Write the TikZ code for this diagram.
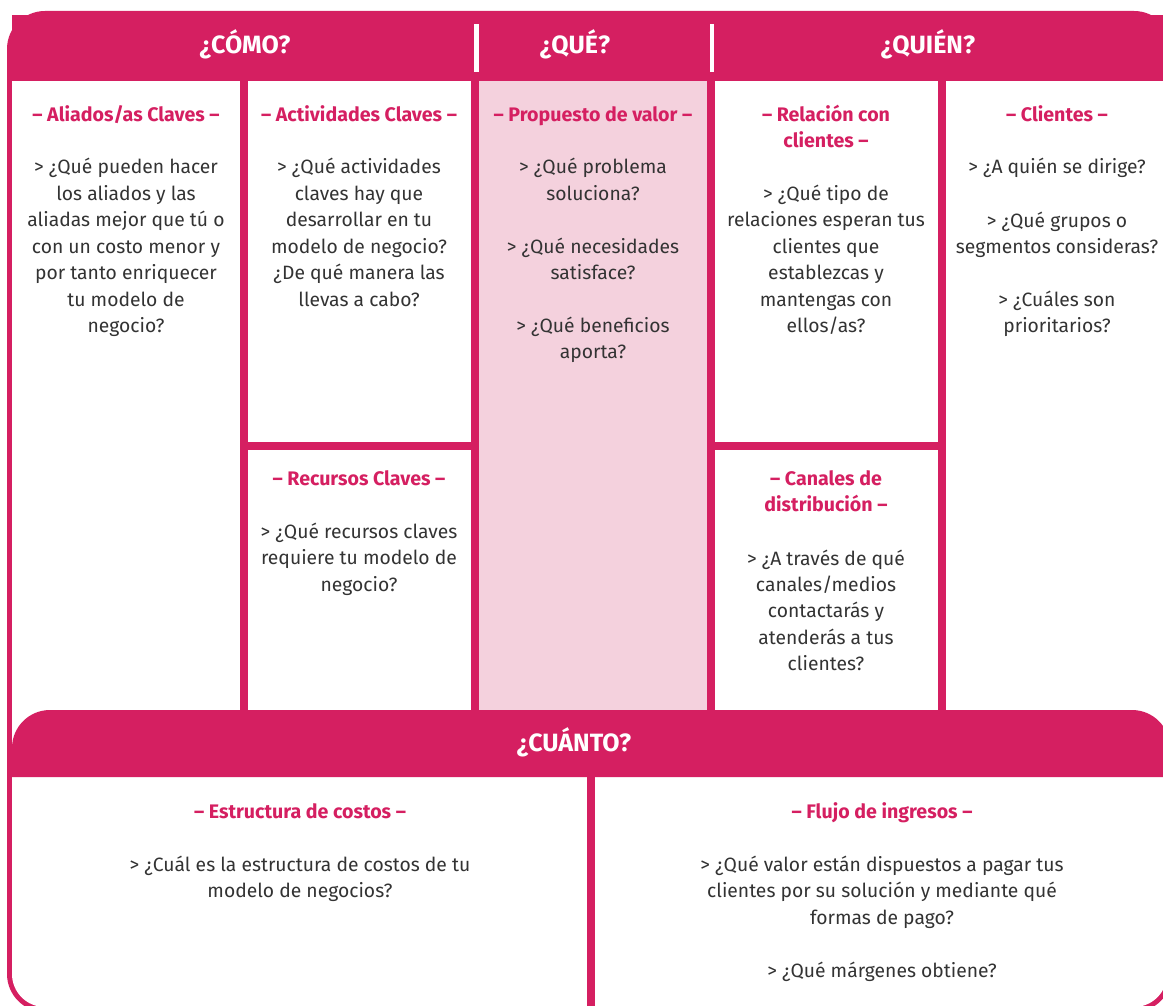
\documentclass[tikz,border=0pt]{standalone}
\usepackage{fontspec}
\setmainfont{Fira Sans}
\definecolor{pk}{HTML}{D51F61}
\definecolor{lpk}{HTML}{F4D1DD}
\definecolor{txt}{HTML}{333333}
\tikzset{
  body/.style={font=\fontsize{19.3}{23}\selectfont, text=txt, inner sep=0pt, anchor=base},
  hd/.style={font=\fontsize{19.6}{23}\selectfont\bfseries, text=pk, inner sep=0pt, anchor=base},
  ttl/.style={font=\fontsize{25}{29}\selectfont\bfseries, text=white, inner sep=0pt, anchor=base},
  bar/.style={fill=pk},
}
\newcommand\blk[5]{% style, name, x, y(first baseline), list
  \foreach \t [count=\i] in {#5} \node[#1] (#2-\i) at (#3, #4+\i*26.4-26.4) {\t};}
\begin{document}
\begin{tikzpicture}[x=1pt,y=-1pt]
\useasboundingbox (0,0) rectangle (1163,1006);
\clip (0,0) rectangle (1163,1006);
% outer frame
\fill[pk, rounded corners=38] (7,11) rectangle (1172,1012);
\fill[white, rounded corners=33] (12,16) rectangle (1167,1007);
\fill[pk] (12,15) rectangle (1167,81);
% value proposition column
\fill[lpk] (479,81) rectangle (707,710);
% dividers
\fill[pk] (240,81) rectangle (248,710);
\fill[pk] (471,81) rectangle (479,710);
\fill[pk] (707,81) rectangle (715,710);
\fill[pk] (938,81) rectangle (946,710);
\fill[pk] (248,442) rectangle (471,450);
\fill[pk] (715,442) rectangle (938,450);
% bottom bar
\fill[pk] (12,777) [rounded corners=38] -- (12,710) -- (1170,710) [sharp corners] -- (1170,777) -- cycle;
\fill[pk] (587,777) rectangle (595,1012);
% white separators in title bar
\fill[white] (474,24) rectangle (478.5,72);
\fill[white] (709.5,24) rectangle (714,72);
% titles
\node[ttl] (como) at (245,53.5) {¿CÓMO?};
\node[ttl] (que) at (575,53.5) {¿QUÉ?};
\node[ttl] (quien) at (928,53.5) {¿QUIÉN?};
\node[ttl] (cuanto) at (574,751.5) {¿CUÁNTO?};
% headers
\blk{hd}{h1}{126}{121.5}{– Aliados/as Claves –}
\blk{hd}{h2}{359}{121.5}{– Actividades Claves –}
\blk{hd}{h3}{359}{485.5}{– Recursos Claves –}
\blk{hd}{h4}{593}{121.5}{– Propuesto de valor –}
\blk{hd}{h5}{826}{121.5}{– Relación con,clientes –}
\blk{hd}{h6}{826}{485.5}{– Canales de,distribución –}
\blk{hd}{h7}{1057}{121.5}{– Clientes –}
\blk{hd}{h8}{300}{818.5}{– Estructura de costos –}
\blk{hd}{h9}{882}{818.5}{– Flujo de ingresos –}
% bodies
\blk{body}{b1}{126}{174}{> ¿Qué pueden hacer,los aliados y las,aliadas mejor que tú o,con un costo menor y,por tanto enriquecer,tu modelo de,negocio?}
\blk{body}{b2}{359}{174}{> ¿Qué actividades,claves hay que,desarrollar en tu,modelo de negocio?,¿De qué manera las,llevas a cabo?}
\blk{body}{b3}{359}{538.5}{> ¿Qué recursos claves,requiere tu modelo de,negocio?}
\blk{body}{b4a}{593}{174}{> ¿Qué problema,soluciona?}
\blk{body}{b4b}{593}{253}{> ¿Qué necesidades,satisface?}
\blk{body}{b4c}{593}{332.5}{> ¿Qué beneficios,aporta?}
\blk{body}{b5}{826}{200.5}{> ¿Qué tipo de,relaciones esperan tus,clientes que,establezcas y,mantengas con,ellos/as?}
\blk{body}{b6}{826}{565}{> ¿A través de qué,canales/medios,contactarás y,atenderás a tus,clientes?}
\blk{body}{b7a}{1057}{174}{> ¿A quién se dirige?}
\blk{body}{b7b}{1057}{227}{> ¿Qué grupos o,segmentos consideras?}
\blk{body}{b7c}{1057}{306.5}{> ¿Cuáles son,prioritarios?}
\blk{body}{b8}{300}{871.5}{> ¿Cuál es la estructura de costos de tu,modelo de negocios?}
\blk{body}{b9}{882}{871.5}{> ¿Qué valor están dispuestos a pagar tus,clientes por su solución y mediante qué,formas de pago?}
\blk{body}{b9b}{882}{977}{> ¿Qué márgenes obtiene?}
\end{tikzpicture}
\end{document}
